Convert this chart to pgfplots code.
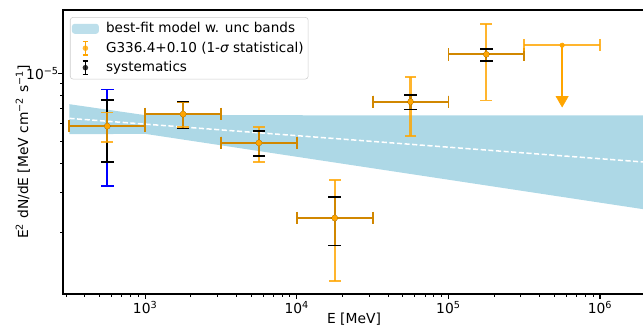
\documentclass[border=0pt]{standalone}
\usepackage{pgfplots}
\pgfplotsset{compat=1.18}
\usepackage{fontspec}
\setmainfont{DejaVu Sans}
\definecolor{mplorange}{HTML}{FFA500}
\definecolor{lblue}{HTML}{ADD8E6}
\definecolor{mplblue}{HTML}{0000FF}
\begin{document}
\begin{tikzpicture}
\begin{axis}[
  scale only axis,
  width=419.04bp, height=204.48bp,
  at={(0bp,0bp)}, anchor=south west,
  xmode=log, ymode=log,
  xmin=287, xmax=1.98e6, ymin=1.07e-6, ymax=1.9e-5,
  xtick={1000,10000,100000,1000000},
  xticklabels={10\textsuperscript{3},10\textsuperscript{4},10\textsuperscript{5},10\textsuperscript{6}},
  minor xtick={300,400,500,600,700,800,900,2000,3000,4000,5000,6000,7000,8000,9000,20000,30000,40000,50000,60000,70000,80000,90000,200000,300000,400000,500000,600000,700000,800000,900000},
  ytick={1e-5},
  yticklabels={10\textsuperscript{−5}},
  minor ytick={2e-6,3e-6,4e-6,5e-6,6e-6,7e-6,8e-6,9e-6},
  xtick pos=left, ytick pos=left,
  tick align=outside,
  major tick length=3.5bp, minor tick length=2bp,
  every tick/.style={black, line width=0.8bp},
  minor tick style={line width=0.6bp},
  axis line style={line width=0.8bp},
  ticklabel style={font=\fontsize{10}{12}\selectfont},
  xticklabel style={yshift=1.5bp},
  yticklabel style={xshift=4bp},
  label style={font=\fontsize{10}{12}\selectfont},
  xlabel={E [MeV]},
  xlabel style={at={(axis description cs:0.5,0)}, anchor=base, yshift=-20.9bp},
  ylabel={E\textsuperscript{2} dN/dE [MeV cm\textsuperscript{−2} s\textsuperscript{−1}]},
  ylabel style={at={(axis description cs:-0.0601,0.5)}, anchor=base},
  legend cell align=left,
  legend style={at={(0.012,0.975)}, anchor=north west, draw=black!20, rounded corners=2bp,
    fill=white, fill opacity=0.8, text opacity=1, font=\fontsize{9.8}{12}\selectfont,
    inner xsep=1.2bp, inner ysep=1.2bp, row sep=0bp, column sep=3.2bp,
    nodes={inner sep=2bp, text height=8bp, text depth=2bp}},
]
% legend images
\addlegendimage{legend image code/.code={\fill[lblue, draw=none] (0bp,-3.6bp) rectangle (19.4bp,3.6bp);}}
\addlegendentry{best-fit model w. unc bands}
\addlegendimage{legend image code/.code={\path[draw=none, fill=none] (0bp,-3.6bp) rectangle (19.4bp,3.6bp);
  \draw[mplorange, line width=1bp] (9.7bp,-4.8bp) -- (9.7bp,4.8bp) (7.7bp,-4.8bp)--(11.7bp,-4.8bp) (7.7bp,4.8bp)--(11.7bp,4.8bp);
  \fill[mplorange, draw=none] (9.7bp,0bp) circle (2bp);}}
\addlegendentry{G336.4+0.10 (1-{\itshape σ} statistical)}
\addlegendimage{legend image code/.code={\path[draw=none, fill=none] (0bp,-3.6bp) rectangle (19.4bp,3.6bp);
  \draw[black, line width=1bp] (9.7bp,-4.8bp) -- (9.7bp,4.8bp) (7.7bp,-4.8bp)--(11.7bp,-4.8bp) (7.7bp,4.8bp)--(11.7bp,4.8bp);
  \fill[black, draw=none] (9.7bp,0bp) circle (2bp);}}
\addlegendentry{systematics}

% model band
\addplot[fill=lblue, draw=none, forget plot] coordinates {
 (316.2,7.32e-6) (1000,6.55e-6) (1.98e6,6.53e-6) (1.98e6,2.52e-6) (1000,5.42e-6) (316.2,5.40e-6)} -- cycle;
% best-fit line
\addplot[white, line width=1.1bp, dash pattern=on 3.7bp off 1.8bp, forget plot] coordinates {
 (316.2,6.34e-6) (1.98e6,4.07e-6)};

% blue bar
\addplot[mplblue, line width=1.2bp, mark=-, mark size=4.5bp, mark options={solid, line width=1.2bp}, forget plot] coordinates {
 (562.3,3.19e-6) (562.3,8.5e-6)};

% systematics vertical
\addplot[black, line width=1.5bp, mark=-, mark size=4.5bp, mark options={solid, line width=1.3bp}, unbounded coords=jump, forget plot] coordinates {
 (562.3,4.08e-6) (562.3,7.62e-6) (562.3,nan)
 (1778.3,5.72e-6) (1778.3,7.48e-6) (1778.3,nan)
 (5623.4,4.34e-6) (5623.4,5.57e-6) (5623.4,nan)
 (17782.8,1.75e-6) (17782.8,2.86e-6) (17782.8,nan)
 (56234.1,6.94e-6) (56234.1,8.05e-6) (56234.1,nan)
 (177827.9,1.13e-5) (177827.9,1.28e-5)};
% systematics horizontal
\addplot[black, line width=1.5bp, mark=|, mark size=4.5bp, mark options={solid, line width=1.3bp}, unbounded coords=jump, forget plot] coordinates {
 (316.2,5.86e-6) (1000,5.86e-6) (1000,nan)
 (1000,6.62e-6) (3162.3,6.62e-6) (3162.3,nan)
 (3162.3,4.95e-6) (10000,4.95e-6) (10000,nan)
 (10000,2.31e-6) (31622.8,2.31e-6) (31622.8,nan)
 (31622.8,7.5e-6) (100000,7.5e-6) (100000,nan)
 (100000,1.213e-5) (316227.8,1.213e-5)};
\addplot[black, only marks, mark=*, mark size=2bp, forget plot] coordinates {
 (562.3,5.86e-6) (1778.3,6.62e-6) (5623.4,4.95e-6) (17782.8,2.31e-6) (56234.1,7.5e-6) (177827.9,1.213e-5)};

% statistical vertical
\addplot[mplorange, opacity=0.82, line width=1.5bp, mark=-, mark size=4.2bp, mark options={solid, line width=1.3bp}, unbounded coords=jump, forget plot] coordinates {
 (562.3,4.97e-6) (562.3,6.73e-6) (562.3,nan)
 (1778.3,5.82e-6) (1778.3,7.45e-6) (1778.3,nan)
 (5623.4,4.07e-6) (5623.4,5.82e-6) (5623.4,nan)
 (17782.8,1.22e-6) (17782.8,3.39e-6) (17782.8,nan)
 (56234.1,5.31e-6) (56234.1,9.66e-6) (56234.1,nan)
 (177827.9,7.6e-6) (177827.9,1.65e-5)};
% statistical horizontal
\addplot[mplorange, opacity=0.82, line width=1.5bp, mark=|, mark size=4.5bp, mark options={solid, line width=1.3bp}, unbounded coords=jump, forget plot] coordinates {
 (316.2,5.86e-6) (1000,5.86e-6) (1000,nan)
 (1000,6.62e-6) (3162.3,6.62e-6) (3162.3,nan)
 (3162.3,4.95e-6) (10000,4.95e-6) (10000,nan)
 (10000,2.31e-6) (31622.8,2.31e-6) (31622.8,nan)
 (31622.8,7.5e-6) (100000,7.5e-6) (100000,nan)
 (100000,1.213e-5) (316227.8,1.213e-5) (316227.8,nan)
 (316227.8,1.33e-5) (1000000,1.33e-5)};
% upper limit arrow
\addplot[mplorange, line width=1.5bp, forget plot] coordinates {
 (562341.3,1.33e-5) (562341.3,7.64e-6)};
\addplot[mplorange, only marks, mark=triangle*, mark size=5bp, mark options={rotate=180}, forget plot] coordinates {
 (562341.3,7.64e-6)};
% points
\addplot[mplorange, only marks, mark=*, mark size=2bp, forget plot] coordinates {
 (562.3,5.86e-6) (1778.3,6.62e-6) (5623.4,4.95e-6) (17782.8,2.31e-6) (56234.1,7.5e-6) (177827.9,1.213e-5)};
\addplot[mplorange, only marks, mark=*, mark size=1.6bp, forget plot] coordinates {
 (562341.3,1.33e-5)};
\end{axis}
\pgfresetboundingbox
\useasboundingbox (-45.36bp,-23.04bp) rectangle (417.6bp,211.68bp);
\end{tikzpicture}
\end{document}
